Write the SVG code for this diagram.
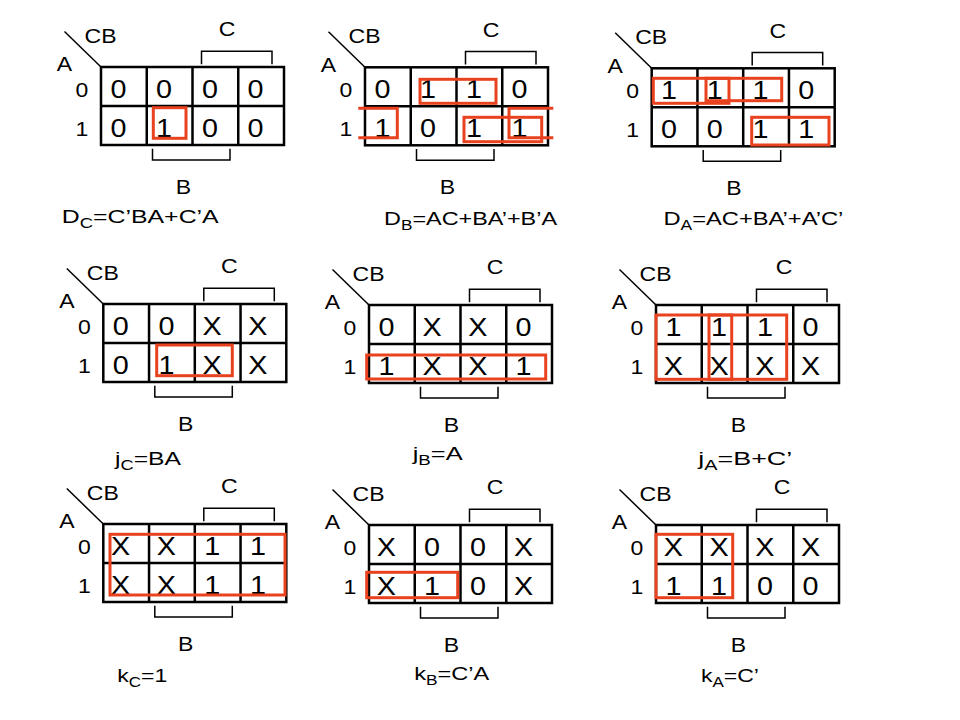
<svg xmlns="http://www.w3.org/2000/svg" width="960" height="720" viewBox="0 0 960 720">
<style>
text { font-family: "Liberation Sans", Arial, sans-serif; fill: #000; }
.l { font-size: 20px; text-anchor: middle; }
.v { font-size: 25px; text-anchor: middle; }
.eq { font-size: 19px; }
.s { font-size: 14px; }
.grid { fill: none; stroke: #000; stroke-width: 2.5; }
.br { fill: none; stroke: #000; stroke-width: 1.5; }
.red { fill: none; stroke: #E8421E; stroke-width: 3; }
</style>
<rect width="960" height="720" fill="#fff"/>

<g id="map1" transform="translate(101,67)">
<line class="br" x1="-36.5" y1="-35.5" x2="0" y2="0"/>
<text class="l" transform="translate(-0.5 -24.3) scale(1.15 1)">CB</text>
<text class="l" transform="translate(-36.5 4.3) scale(1.15 1)">A</text>
<text class="l" transform="translate(126 -30.8) scale(1.15 1)">C</text>
<path class="br" d="M100.5,-2.8V-15.8H171V-2.8"/>
<path class="br" d="M51.5,81.7V93H129V81.7"/>
<text class="l" transform="translate(82.3 126.5) scale(1.15 1)">B</text>
<text class="l" transform="translate(-19 29.5) scale(1.15 1)">0</text>
<text class="l" transform="translate(-19 69) scale(1.15 1)">1</text>
<rect class="grid" x="0" y="0" width="183" height="78"/>
<path class="grid" d="M45.75,0V78M91.5,0V78M137.25,0V78M0,39H183"/>
<text class="v" transform="translate(17.4 31) scale(1.15 1)">0</text>
<text class="v" transform="translate(63.1 31) scale(1.15 1)">0</text>
<text class="v" transform="translate(108.9 31) scale(1.15 1)">0</text>
<text class="v" transform="translate(154.6 31) scale(1.15 1)">0</text>
<text class="v" transform="translate(17.4 70) scale(1.15 1)">0</text>
<text class="v" transform="translate(63.1 70) scale(1.15 1)">1</text>
<text class="v" transform="translate(108.9 70) scale(1.15 1)">0</text>
<text class="v" transform="translate(154.6 70) scale(1.15 1)">0</text>
<rect class="red" x="52.3" y="40.7" width="32.7" height="30.6"/>
<text class="eq" x="-39.3" y="156.3" textLength="157" lengthAdjust="spacingAndGlyphs">D<tspan class="s" dy="5">C</tspan><tspan dy="-5">=C’BA+C’A</tspan></text>
</g>

<g id="map2" transform="translate(365,67.3)">
<line class="br" x1="-36.5" y1="-35.5" x2="0" y2="0"/>
<text class="l" transform="translate(-0.5 -24.3) scale(1.15 1)">CB</text>
<text class="l" transform="translate(-36.5 4.3) scale(1.15 1)">A</text>
<text class="l" transform="translate(126 -30.8) scale(1.15 1)">C</text>
<path class="br" d="M100.5,-2.8V-15.8H171V-2.8"/>
<path class="br" d="M51.5,81.7V93H129V81.7"/>
<text class="l" transform="translate(82.3 126.5) scale(1.15 1)">B</text>
<text class="l" transform="translate(-19 29.5) scale(1.15 1)">0</text>
<text class="l" transform="translate(-19 69) scale(1.15 1)">1</text>
<rect class="grid" x="0" y="0" width="183" height="78"/>
<path class="grid" d="M45.75,0V78M91.5,0V78M137.25,0V78M0,39H183"/>
<text class="v" transform="translate(17.4 31) scale(1.15 1)">0</text>
<text class="v" transform="translate(63.1 31) scale(1.15 1)">1</text>
<text class="v" transform="translate(108.9 31) scale(1.15 1)">1</text>
<text class="v" transform="translate(154.6 31) scale(1.15 1)">0</text>
<text class="v" transform="translate(17.4 70) scale(1.15 1)">1</text>
<text class="v" transform="translate(63.1 70) scale(1.15 1)">0</text>
<text class="v" transform="translate(108.9 70) scale(1.15 1)">1</text>
<text class="v" transform="translate(154.6 70) scale(1.15 1)">1</text>
<rect class="red" x="55" y="12" width="76" height="24"/>
<path class="red" d="M-6.7,41H32.3V70.4H-6.7"/>
<rect class="red" x="99" y="50" width="77.7" height="24.4"/>
<path class="red" d="M188.3,41H144V70.4H188.3"/>
<text class="eq" x="19" y="157.7" textLength="173" lengthAdjust="spacingAndGlyphs">D<tspan class="s" dy="5">B</tspan><tspan dy="-5">=AC+BA’+B’A</tspan></text>
</g>

<g id="map3" transform="translate(651.7,68.3)">
<line class="br" x1="-36.5" y1="-35.5" x2="0" y2="0"/>
<text class="l" transform="translate(-0.5 -24.3) scale(1.15 1)">CB</text>
<text class="l" transform="translate(-36.5 4.3) scale(1.15 1)">A</text>
<text class="l" transform="translate(126 -30.8) scale(1.15 1)">C</text>
<path class="br" d="M100.5,-2.8V-15.8H171V-2.8"/>
<path class="br" d="M51.5,81.7V93H129V81.7"/>
<text class="l" transform="translate(82.3 126.5) scale(1.15 1)">B</text>
<text class="l" transform="translate(-19 29.5) scale(1.15 1)">0</text>
<text class="l" transform="translate(-19 69) scale(1.15 1)">1</text>
<rect class="grid" x="0" y="0" width="183" height="78"/>
<path class="grid" d="M45.75,0V78M91.5,0V78M137.25,0V78M0,39H183"/>
<text class="v" transform="translate(17.4 31) scale(1.15 1)">1</text>
<text class="v" transform="translate(63.1 31) scale(1.15 1)">1</text>
<text class="v" transform="translate(108.9 31) scale(1.15 1)">1</text>
<text class="v" transform="translate(154.6 31) scale(1.15 1)">0</text>
<text class="v" transform="translate(17.4 70) scale(1.15 1)">0</text>
<text class="v" transform="translate(63.1 70) scale(1.15 1)">0</text>
<text class="v" transform="translate(108.9 70) scale(1.15 1)">1</text>
<text class="v" transform="translate(154.6 70) scale(1.15 1)">1</text>
<rect class="red" x="1.6" y="10" width="75.7" height="25"/>
<rect class="red" x="54.3" y="10" width="75.7" height="22.4"/>
<rect class="red" x="100" y="49" width="77.3" height="27.7"/>
<text class="eq" x="11.7" y="156.7" textLength="180" lengthAdjust="spacingAndGlyphs">D<tspan class="s" dy="5">A</tspan><tspan dy="-5">=AC+BA’+A’C’</tspan></text>
</g>

<g id="map4" transform="translate(103.3,304)">
<line class="br" x1="-36.5" y1="-35.5" x2="0" y2="0"/>
<text class="l" transform="translate(-0.5 -24.3) scale(1.15 1)">CB</text>
<text class="l" transform="translate(-36.5 4.3) scale(1.15 1)">A</text>
<text class="l" transform="translate(126 -30.8) scale(1.15 1)">C</text>
<path class="br" d="M100.5,-2.8V-15.8H171V-2.8"/>
<path class="br" d="M51.5,81.7V93H129V81.7"/>
<text class="l" transform="translate(82.3 126.5) scale(1.15 1)">B</text>
<text class="l" transform="translate(-19 29.5) scale(1.15 1)">0</text>
<text class="l" transform="translate(-19 69) scale(1.15 1)">1</text>
<rect class="grid" x="0" y="0" width="183" height="78"/>
<path class="grid" d="M45.75,0V78M91.5,0V78M137.25,0V78M0,39H183"/>
<text class="v" transform="translate(17.4 31) scale(1.15 1)">0</text>
<text class="v" transform="translate(63.1 31) scale(1.15 1)">0</text>
<text class="v" transform="translate(108.9 31) scale(1.15 1)">X</text>
<text class="v" transform="translate(154.6 31) scale(1.15 1)">X</text>
<text class="v" transform="translate(17.4 70) scale(1.15 1)">0</text>
<text class="v" transform="translate(63.1 70) scale(1.15 1)">1</text>
<text class="v" transform="translate(108.9 70) scale(1.15 1)">X</text>
<text class="v" transform="translate(154.6 70) scale(1.15 1)">X</text>
<rect class="red" x="53.4" y="41" width="75.6" height="30.7"/>
<text class="eq" x="11.7" y="161" textLength="66" lengthAdjust="spacingAndGlyphs">j<tspan class="s" dy="5">C</tspan><tspan dy="-5">=BA</tspan></text>
</g>

<g id="map5" transform="translate(369,305)">
<line class="br" x1="-36.5" y1="-35.5" x2="0" y2="0"/>
<text class="l" transform="translate(-0.5 -24.3) scale(1.15 1)">CB</text>
<text class="l" transform="translate(-36.5 4.3) scale(1.15 1)">A</text>
<text class="l" transform="translate(126 -30.8) scale(1.15 1)">C</text>
<path class="br" d="M100.5,-2.8V-15.8H171V-2.8"/>
<path class="br" d="M51.5,81.7V93H129V81.7"/>
<text class="l" transform="translate(82.3 126.5) scale(1.15 1)">B</text>
<text class="l" transform="translate(-19 29.5) scale(1.15 1)">0</text>
<text class="l" transform="translate(-19 69) scale(1.15 1)">1</text>
<rect class="grid" x="0" y="0" width="183" height="78"/>
<path class="grid" d="M45.75,0V78M91.5,0V78M137.25,0V78M0,39H183"/>
<text class="v" transform="translate(17.4 31) scale(1.15 1)">0</text>
<text class="v" transform="translate(63.1 31) scale(1.15 1)">X</text>
<text class="v" transform="translate(108.9 31) scale(1.15 1)">X</text>
<text class="v" transform="translate(154.6 31) scale(1.15 1)">0</text>
<text class="v" transform="translate(17.4 70) scale(1.15 1)">1</text>
<text class="v" transform="translate(63.1 70) scale(1.15 1)">X</text>
<text class="v" transform="translate(108.9 70) scale(1.15 1)">X</text>
<text class="v" transform="translate(154.6 70) scale(1.15 1)">1</text>
<rect class="red" x="-2.3" y="50" width="179" height="24"/>
<text class="eq" x="43.7" y="155" textLength="50" lengthAdjust="spacingAndGlyphs">j<tspan class="s" dy="5">B</tspan><tspan dy="-5">=A</tspan></text>
</g>

<g id="map6" transform="translate(656,305)">
<line class="br" x1="-36.5" y1="-35.5" x2="0" y2="0"/>
<text class="l" transform="translate(-0.5 -24.3) scale(1.15 1)">CB</text>
<text class="l" transform="translate(-36.5 4.3) scale(1.15 1)">A</text>
<text class="l" transform="translate(128 -31.5) scale(1.15 1)">C</text>
<path class="br" d="M100.5,-2.8V-15.8H171V-2.8"/>
<path class="br" d="M51.5,81.7V93H129V81.7"/>
<text class="l" transform="translate(82.3 126.5) scale(1.15 1)">B</text>
<text class="l" transform="translate(-19 29.5) scale(1.15 1)">0</text>
<text class="l" transform="translate(-19 69) scale(1.15 1)">1</text>
<rect class="grid" x="0" y="0" width="183" height="78"/>
<path class="grid" d="M45.75,0V78M91.5,0V78M137.25,0V78M0,39H183"/>
<text class="v" transform="translate(17.4 31) scale(1.15 1)">1</text>
<text class="v" transform="translate(63.1 31) scale(1.15 1)">1</text>
<text class="v" transform="translate(108.9 31) scale(1.15 1)">1</text>
<text class="v" transform="translate(154.6 31) scale(1.15 1)">0</text>
<text class="v" transform="translate(17.4 70) scale(1.15 1)">X</text>
<text class="v" transform="translate(63.1 70) scale(1.15 1)">X</text>
<text class="v" transform="translate(108.9 70) scale(1.15 1)">X</text>
<text class="v" transform="translate(154.6 70) scale(1.15 1)">X</text>
<rect class="red" x="0" y="10" width="75.7" height="64.3"/>
<rect class="red" x="53" y="10" width="77.7" height="64.3"/>
<text class="eq" x="42.3" y="160" textLength="94" lengthAdjust="spacingAndGlyphs">j<tspan class="s" dy="5">A</tspan><tspan dy="-5">=B+C’</tspan></text>
</g>

<g id="map7" transform="translate(103.3,524)">
<line class="br" x1="-36.5" y1="-35.5" x2="0" y2="0"/>
<text class="l" transform="translate(-0.5 -24.3) scale(1.15 1)">CB</text>
<text class="l" transform="translate(-36.5 4.3) scale(1.15 1)">A</text>
<text class="l" transform="translate(126 -30.8) scale(1.15 1)">C</text>
<path class="br" d="M100.5,-2.8V-15.8H171V-2.8"/>
<path class="br" d="M51.5,81.7V93H129V81.7"/>
<text class="l" transform="translate(82.3 126.5) scale(1.15 1)">B</text>
<text class="l" transform="translate(-19 29.5) scale(1.15 1)">0</text>
<text class="l" transform="translate(-19 69) scale(1.15 1)">1</text>
<rect class="grid" x="0" y="0" width="183" height="78"/>
<path class="grid" d="M45.75,0V78M91.5,0V78M137.25,0V78M0,39H183"/>
<text class="v" transform="translate(17.4 31) scale(1.15 1)">X</text>
<text class="v" transform="translate(63.1 31) scale(1.15 1)">X</text>
<text class="v" transform="translate(108.9 31) scale(1.15 1)">1</text>
<text class="v" transform="translate(154.6 31) scale(1.15 1)">1</text>
<text class="v" transform="translate(17.4 70) scale(1.15 1)">X</text>
<text class="v" transform="translate(63.1 70) scale(1.15 1)">X</text>
<text class="v" transform="translate(108.9 70) scale(1.15 1)">1</text>
<text class="v" transform="translate(154.6 70) scale(1.15 1)">1</text>
<rect class="red" x="6.7" y="10.3" width="175" height="60.7"/>
<text class="eq" x="14" y="157.7" textLength="50" lengthAdjust="spacingAndGlyphs">k<tspan class="s" dy="5">C</tspan><tspan dy="-5">=1</tspan></text>
</g>

<g id="map8" transform="translate(369,525)">
<line class="br" x1="-36.5" y1="-35.5" x2="0" y2="0"/>
<text class="l" transform="translate(-0.5 -24.3) scale(1.15 1)">CB</text>
<text class="l" transform="translate(-36.5 4.3) scale(1.15 1)">A</text>
<text class="l" transform="translate(126 -30.8) scale(1.15 1)">C</text>
<path class="br" d="M100.5,-2.8V-15.8H171V-2.8"/>
<path class="br" d="M51.5,81.7V93H129V81.7"/>
<text class="l" transform="translate(82.3 126.5) scale(1.15 1)">B</text>
<text class="l" transform="translate(-19 29.5) scale(1.15 1)">0</text>
<text class="l" transform="translate(-19 69) scale(1.15 1)">1</text>
<rect class="grid" x="0" y="0" width="183" height="78"/>
<path class="grid" d="M45.75,0V78M91.5,0V78M137.25,0V78M0,39H183"/>
<text class="v" transform="translate(17.4 31) scale(1.15 1)">X</text>
<text class="v" transform="translate(63.1 31) scale(1.15 1)">0</text>
<text class="v" transform="translate(108.9 31) scale(1.15 1)">0</text>
<text class="v" transform="translate(154.6 31) scale(1.15 1)">X</text>
<text class="v" transform="translate(17.4 70) scale(1.15 1)">X</text>
<text class="v" transform="translate(63.1 70) scale(1.15 1)">1</text>
<text class="v" transform="translate(108.9 70) scale(1.15 1)">0</text>
<text class="v" transform="translate(154.6 70) scale(1.15 1)">X</text>
<rect class="red" x="-2.3" y="47.3" width="91" height="25.4"/>
<text class="eq" x="45.3" y="155" textLength="75" lengthAdjust="spacingAndGlyphs">k<tspan class="s" dy="5">B</tspan><tspan dy="-5">=C’A</tspan></text>
</g>

<g id="map9" transform="translate(656,525)">
<line class="br" x1="-36.5" y1="-35.5" x2="0" y2="0"/>
<text class="l" transform="translate(-0.5 -24.3) scale(1.15 1)">CB</text>
<text class="l" transform="translate(-36.5 4.3) scale(1.15 1)">A</text>
<text class="l" transform="translate(126 -30.8) scale(1.15 1)">C</text>
<path class="br" d="M100.5,-2.8V-15.8H171V-2.8"/>
<path class="br" d="M51.5,81.7V93H129V81.7"/>
<text class="l" transform="translate(82.3 126.5) scale(1.15 1)">B</text>
<text class="l" transform="translate(-19 29.5) scale(1.15 1)">0</text>
<text class="l" transform="translate(-19 69) scale(1.15 1)">1</text>
<rect class="grid" x="0" y="0" width="183" height="78"/>
<path class="grid" d="M45.75,0V78M91.5,0V78M137.25,0V78M0,39H183"/>
<text class="v" transform="translate(17.4 31) scale(1.15 1)">X</text>
<text class="v" transform="translate(63.1 31) scale(1.15 1)">X</text>
<text class="v" transform="translate(108.9 31) scale(1.15 1)">X</text>
<text class="v" transform="translate(154.6 31) scale(1.15 1)">X</text>
<text class="v" transform="translate(17.4 70) scale(1.15 1)">1</text>
<text class="v" transform="translate(63.1 70) scale(1.15 1)">1</text>
<text class="v" transform="translate(108.9 70) scale(1.15 1)">0</text>
<text class="v" transform="translate(154.6 70) scale(1.15 1)">0</text>
<rect class="red" x="0" y="9.3" width="76.7" height="63.4"/>
<text class="eq" x="45" y="156.7" textLength="58" lengthAdjust="spacingAndGlyphs">k<tspan class="s" dy="5">A</tspan><tspan dy="-5">=C’</tspan></text>
</g>
</svg>
